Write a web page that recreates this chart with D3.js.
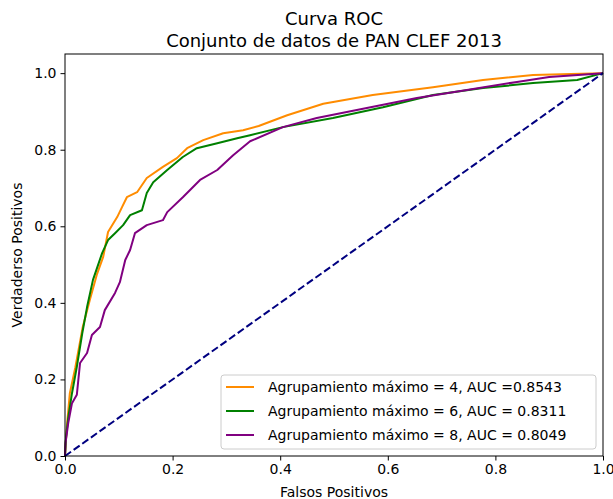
<!DOCTYPE html>
<html>
<head>
<meta charset="utf-8">
<script src="https://cdnjs.cloudflare.com/ajax/libs/d3/7.8.5/d3.min.js"></script>
<style>
  body { margin: 0; background: #fff; }
  text { font-family: "DejaVu Sans", sans-serif; fill: #000; }
</style>
</head>
<body>
<div id="chart"></div>
<script>
// datos (fpr, tpr)
const fpr4 = [0, 0.003, 0.009, 0.019, 0.033, 0.046, 0.059, 0.071, 0.08, 0.097, 0.106, 0.115, 0.134, 0.152, 0.182, 0.208, 0.227, 0.257, 0.294, 0.331, 0.36, 0.413, 0.48, 0.572, 0.684, 0.777, 0.87, 0.94, 1.0];
const tpr4 = [0, 0.07, 0.164, 0.23, 0.337, 0.407, 0.473, 0.52, 0.585, 0.624, 0.65, 0.676, 0.689, 0.726, 0.755, 0.778, 0.804, 0.825, 0.843, 0.851, 0.862, 0.89, 0.92, 0.943, 0.963, 0.982, 0.995, 0.998, 1.0];

const fpr6 = [0, 0.002, 0.006, 0.013, 0.022, 0.032, 0.041, 0.052, 0.069, 0.08, 0.093, 0.108, 0.121, 0.143, 0.152, 0.164, 0.19, 0.219, 0.245, 0.283, 0.32, 0.344, 0.405, 0.498, 0.591, 0.684, 0.777, 0.87, 0.952, 1.0];
const tpr6 = [0, 0.05, 0.10, 0.164, 0.233, 0.32, 0.389, 0.46, 0.53, 0.564, 0.582, 0.603, 0.629, 0.642, 0.687, 0.715, 0.747, 0.781, 0.804, 0.817, 0.83, 0.838, 0.859, 0.883, 0.911, 0.943, 0.961, 0.974, 0.982, 1.0];

const fpr8 = [0, 0.001, 0.006, 0.013, 0.022, 0.028, 0.041, 0.05, 0.065, 0.074, 0.093, 0.102, 0.112, 0.121, 0.13, 0.152, 0.182, 0.19, 0.219, 0.251, 0.283, 0.312, 0.344, 0.405, 0.468, 0.561, 0.654, 0.747, 0.84, 0.90, 1.0];
const tpr8 = [0, 0.034, 0.086, 0.138, 0.16, 0.243, 0.269, 0.316, 0.337, 0.381, 0.426, 0.454, 0.512, 0.538, 0.582, 0.603, 0.616, 0.637, 0.676, 0.721, 0.747, 0.785, 0.822, 0.859, 0.883, 0.909, 0.935, 0.956, 0.977, 0.99, 1.0];

const labels = ["Agrupamiento máximo = 4, AUC =0.8543", "Agrupamiento máximo = 6, AUC = 0.8311", "Agrupamiento máximo = 8, AUC = 0.8049"];
const colors = ["#ff8c00", "#008000", "#800080"];
const ticks = [0, 0.2, 0.4, 0.6, 0.8, 1.0];

const width = 613, height = 499;
const margin = {left: 65, right: 10, top: 54, bottom: 43};

const svg = d3.select("#chart").append("svg").attr("width", width).attr("height", height);

const x = d3.scaleLinear().domain([0, 1]).range([margin.left, width - margin.right]);
const y = d3.scaleLinear().domain([0, 1.05]).range([height - margin.bottom, margin.top]);

const series = [
  {x: fpr4, y: tpr4},
  {x: fpr6, y: tpr6},
  {x: fpr8, y: tpr8}
];

const line = d3.line().x(d => x(d[0])).y(d => y(d[1]));

const plot = svg.append("g");
series.forEach((s, i) => {
  plot.append("path")
    .datum(s.x.map((v, k) => [v, s.y[k]]))
    .attr("d", line)
    .attr("fill", "none")
    .attr("stroke", colors[i])
    .attr("stroke-width", 2)
    .attr("stroke-linejoin", "round");
});

// diagonal
plot.append("path")
  .datum([[0, 0], [1, 1]])
  .attr("d", line)
  .attr("fill", "none")
  .attr("stroke", "#000080")
  .attr("stroke-width", 2)
  .attr("stroke-dasharray", "7.4,3.2");

// ejes
const xAxis = d3.axisBottom(x).tickValues(ticks).tickFormat(d3.format(".1f")).tickSize(4.5).tickPadding(4);
const yAxis = d3.axisLeft(y).tickValues(ticks).tickFormat(d3.format(".1f")).tickSize(4.5).tickPadding(4);

const gx = svg.append("g").attr("transform", `translate(0,${height - margin.bottom})`).call(xAxis);
const gy = svg.append("g").attr("transform", `translate(${margin.left},0)`).call(yAxis);
[gx, gy].forEach(g => {
  g.select(".domain").remove();
  g.selectAll("line").attr("stroke", "#000").attr("stroke-width", 1);
  g.selectAll("text").style("font-size", "14px").style("font-family", "DejaVu Sans");
});

// marco
svg.append("rect")
  .attr("x", margin.left).attr("y", margin.top)
  .attr("width", width - margin.left - margin.right)
  .attr("height", height - margin.top - margin.bottom)
  .attr("fill", "none").attr("stroke", "#000").attr("stroke-width", 1);

// titulos
const cx = (margin.left + width - margin.right) / 2;
svg.append("text").attr("x", cx).attr("y", 25).attr("text-anchor", "middle").style("font-size", "18px").text("Curva ROC");
svg.append("text").attr("x", cx).attr("y", 47).attr("text-anchor", "middle").style("font-size", "18px").text("Conjunto de datos de PAN CLEF 2013");
svg.append("text").attr("x", cx).attr("y", 497).attr("text-anchor", "middle").style("font-size", "14px").text("Falsos Positivos");
svg.append("text")
  .attr("transform", `translate(22,${(margin.top + height - margin.bottom) / 2}) rotate(-90)`)
  .attr("text-anchor", "middle").style("font-size", "14px").text("Verdaderso Positivos");

// leyenda
const leg = svg.append("g");
leg.append("rect")
  .attr("x", 221).attr("y", 375).attr("width", 375).attr("height", 74).attr("rx", 3)
  .attr("fill", "#fff").attr("fill-opacity", 0.8).attr("stroke", "#cccccc").attr("stroke-width", 1);
labels.forEach((t, i) => {
  const ly = 387 + i * 24;
  leg.append("line").attr("x1", 226).attr("x2", 254).attr("y1", ly).attr("y2", ly)
    .attr("stroke", colors[i]).attr("stroke-width", 2);
  leg.append("text").attr("x", 268).attr("y", ly + 5).style("font-size", "14px").text(t);
});
</script>
</body>
</html>
